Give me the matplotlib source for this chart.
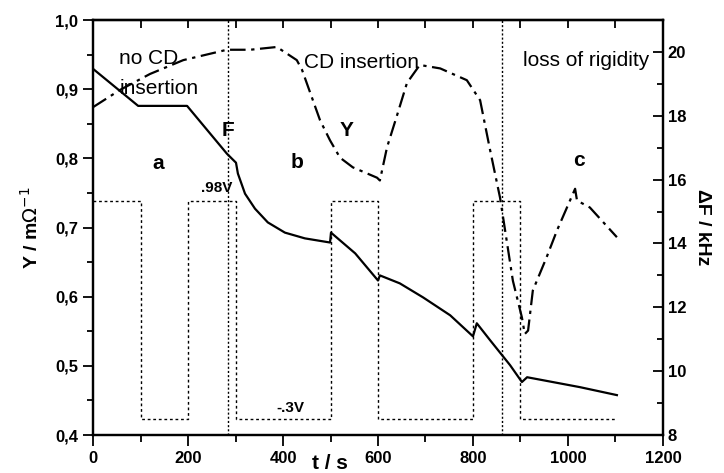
import numpy as np
import matplotlib
matplotlib.use("Agg")
from matplotlib import pyplot as plt
from matplotlib.ticker import MultipleLocator, FuncFormatter, NullFormatter

plt.rcParams['font.family'] = ['Liberation Sans', 'DejaVu Sans']

# admittance Y (left axis), dash-dot curve
t_y = [0, 57, 120, 190, 282, 331, 387, 429, 440, 478, 499, 520, 547, 598, 604,
       619, 640, 661, 688, 731, 787, 815, 836, 857, 884, 903, 909, 916, 926,
       955, 977, 1015, 1019, 1046, 1103]
y_vals = [0.874, 0.899, 0.922, 0.942, 0.957, 0.957, 0.961, 0.942, 0.928, 0.855,
          0.826, 0.801, 0.787, 0.772, 0.768, 0.816, 0.862, 0.909, 0.935, 0.930,
          0.913, 0.884, 0.812, 0.743, 0.623, 0.570, 0.546, 0.551, 0.609, 0.657,
          0.696, 0.756, 0.739, 0.729, 0.686]

# frequency shift dF (right axis), solid curve
t_f = [0, 95, 198, 282, 301, 305, 320, 341, 368, 404, 446, 499, 501, 552, 600,
       604, 646, 695, 752, 800, 808, 836, 878, 903, 914, 1025, 1103]
f_vals = [19.47, 18.31, 18.31, 16.81, 16.53, 16.19, 15.56, 15.09, 14.66, 14.34,
          14.16, 14.03, 14.34, 13.69, 12.84, 13.0, 12.75, 12.31, 11.75, 11.09,
          11.5, 10.97, 10.19, 9.66, 9.81, 9.5, 9.25]

# applied potential steps (drawn on left scale)
t_pot = [0, 100, 100, 200, 200, 300, 300, 500, 500, 600, 600, 800, 800, 900, 900, 1100]
pot_vals = [0.738, 0.738, 0.423, 0.423, 0.738, 0.738, 0.423, 0.423,
            0.738, 0.738, 0.423, 0.423, 0.738, 0.738, 0.423, 0.423]

t_markers = [285, 862]

fig = plt.figure(figsize=(7.24, 4.73), dpi=100)
ax = fig.add_axes([0.1285, 0.0803, 0.7872, 0.8774])
ax2 = ax.twinx()

ax.plot(t_pot, pot_vals, color='black', lw=1.0, dashes=(2, 2))
ax.plot(t_y, y_vals, color='black', lw=1.6, dashes=(7, 2.5, 1.5, 2.5))
ax2.plot(t_f, f_vals, color='black', lw=1.6)
for tm in t_markers:
    ax.axvline(tm, color='black', lw=1.0, dashes=(1.5, 1.5))

ax.set_xlim(0, 1200)
ax.set_ylim(0.4, 1.0)
ax2.set_ylim(8, 21)

ax.xaxis.set_major_locator(MultipleLocator(200))
ax.xaxis.set_minor_locator(MultipleLocator(100))
ax.yaxis.set_major_locator(MultipleLocator(0.1))
ax.yaxis.set_minor_locator(MultipleLocator(0.05))
ax2.yaxis.set_major_locator(MultipleLocator(2))
ax2.yaxis.set_minor_locator(MultipleLocator(1))
ax.yaxis.set_major_formatter(FuncFormatter(lambda v, p: f"{v:.1f}".replace('.', ',')))

# top axis: ticks pointing inward, no labels
top = ax.secondary_xaxis('top')
top.xaxis.set_major_locator(MultipleLocator(200))
top.xaxis.set_minor_locator(MultipleLocator(100))
top.xaxis.set_major_formatter(NullFormatter())
top.tick_params(axis='x', which='both', direction='in', length=6, width=1.3)
top.spines['top'].set_linewidth(1.6)

for a in (ax, ax2):
    for s in a.spines.values():
        s.set_linewidth(1.6)

ax.tick_params(axis='x', which='both', direction='out', top=False, width=1.3)
ax.tick_params(axis='x', which='major', length=8)
ax.tick_params(axis='x', which='minor', length=5)
ax.tick_params(axis='y', which='both', direction='out', right=False, width=1.3)
ax.tick_params(axis='y', which='major', length=7)
ax.tick_params(axis='y', which='minor', length=4)
ax2.tick_params(axis='y', which='both', direction='in', width=1.3)
ax2.tick_params(axis='y', which='major', length=7)
ax2.tick_params(axis='y', which='minor', length=4)
for a in (ax, ax2):
    for lab in a.get_xticklabels() + a.get_yticklabels():
        lab.set_fontsize(12)
        lab.set_fontweight('bold')

ax.set_ylabel("Y / m$\\Omega^{-1}$", fontsize=14, fontweight='bold', labelpad=10)
ax2.set_ylabel("ΔF / kHz", fontsize=14, fontweight='bold', rotation=270, labelpad=18)
ax.set_xlabel("t / s", fontsize=15, fontweight='bold')
ax.xaxis.set_label_coords(0.416, -0.045)

txt = dict(fontsize=15, color='black')
ax.text(55, 0.945, "no CD", ha='left', va='center', **txt)
ax.text(57, 0.901, "insertion", ha='left', va='center', **txt)
ax.text(566, 0.939, "CD insertion", ha='center', va='center', **txt)
ax.text(1038, 0.942, "loss of rigidity", ha='center', va='center', **txt)
ax.text(284, 0.84, "F", ha='center', va='center', fontsize=15, fontweight='bold')
ax.text(533, 0.84, "Y", ha='center', va='center', fontsize=15, fontweight='bold')
ax.text(137, 0.793, "a", ha='center', va='center', fontsize=15, fontweight='bold')
ax.text(429, 0.794, "b", ha='center', va='center', fontsize=15, fontweight='bold')
ax.text(1023, 0.797, "c", ha='center', va='center', fontsize=15, fontweight='bold')
ax.text(261, 0.757, ".98V", ha='center', va='center', fontsize=11, fontweight='bold')
ax.text(415, 0.439, "-.3V", ha='center', va='center', fontsize=11, fontweight='bold')

fig.savefig("out.png", dpi=100)
